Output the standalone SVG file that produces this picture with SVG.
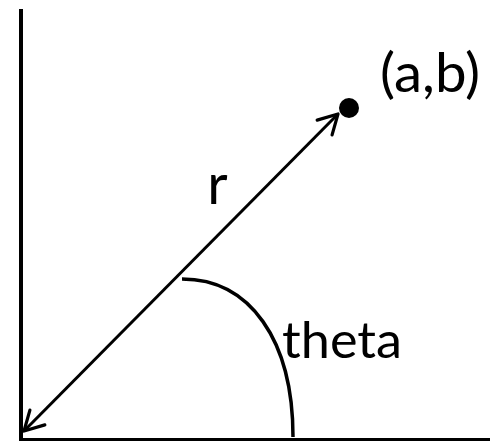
<svg xmlns="http://www.w3.org/2000/svg" width="490" height="441" viewBox="0 0 490 441">
<style>
.axis{fill:#000}
.line{stroke:#000;stroke-width:3;fill:none}
.arc{stroke:#000;stroke-width:3.5;fill:none}
.lbl{font-family:Lato,"Open Sans","Liberation Sans",sans-serif;fill:#000;text-anchor:middle}
</style>
<defs>
<marker id="head" markerUnits="userSpaceOnUse" markerWidth="30" markerHeight="30" viewBox="-25 -15 30 30" refX="0" refY="0" orient="auto-start-reverse">
<path d="M-19,-10.5 L0,0 L-19,10.5" fill="none" stroke="#000" stroke-width="3.2" stroke-linecap="round" stroke-linejoin="round"/>
</marker>
</defs>
<rect width="490" height="441" fill="#fff"/>
<g id="axes">
<rect class="axis" x="19" y="9" width="4" height="432"/>
<rect class="axis" x="19" y="438" width="471" height="3"/>
</g>
<g id="connectors">
<line class="line" x1="24" y1="431" x2="338" y2="114" marker-start="url(#head)" marker-end="url(#head)"/>
<path id="theta-arc" class="arc" d="M182,279 C250,279 293,340 293,437"/>
</g>
<g id="point">
<circle cx="349" cy="108" r="10" fill="#000"/>
<text class="lbl" x="430" y="92" font-size="54" textLength="100" lengthAdjust="spacingAndGlyphs">(a,b)</text>
</g>
<g id="r-label">
<text class="lbl" x="217.5" y="204" font-size="56">r</text>
</g>
<g id="theta-label">
<text class="lbl" x="342" y="358" font-size="50" textLength="120" lengthAdjust="spacingAndGlyphs">theta</text>
</g>
</svg>
